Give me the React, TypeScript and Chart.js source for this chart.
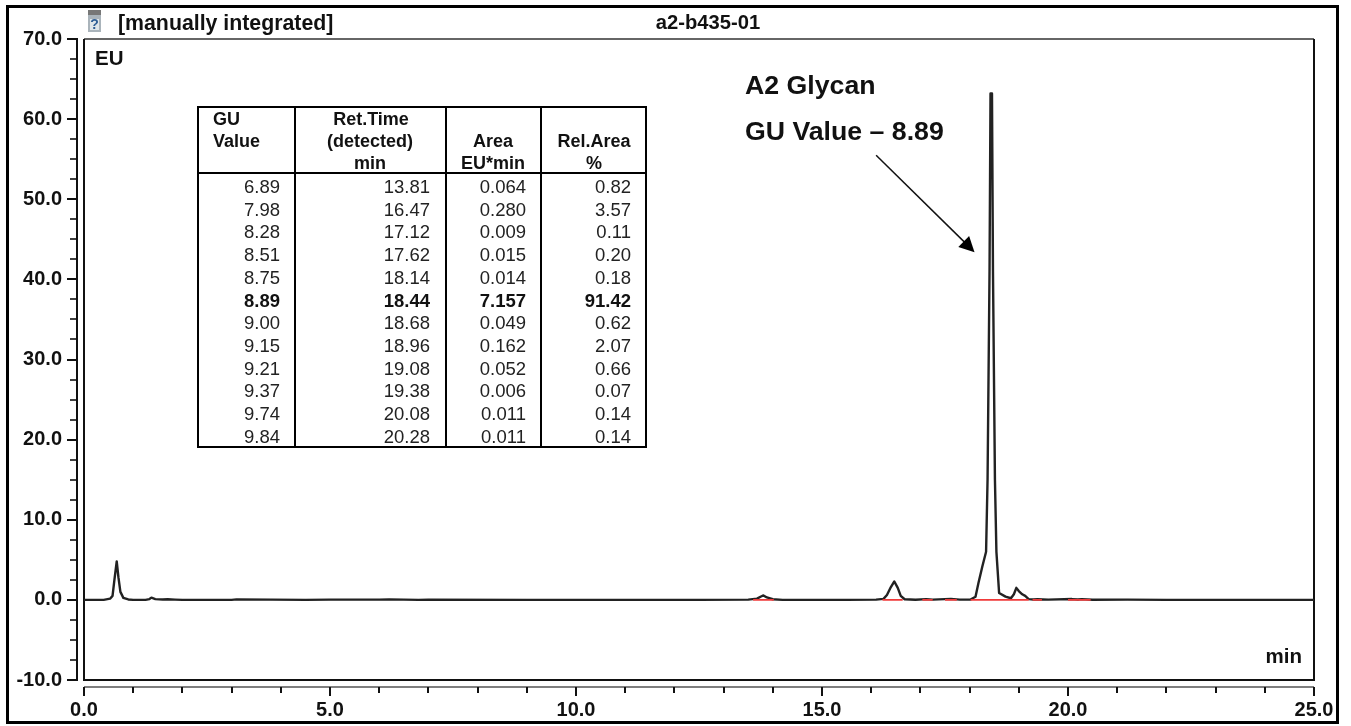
import React, { useEffect, useRef } from "react";
import { Chart, registerables } from "chart.js";

Chart.register(...registerables);

const traceTime = [0, 0.4, 0.53, 0.58, 0.62, 0.665, 0.7, 0.74, 0.8, 0.9, 1.0, 1.25, 1.33, 1.37, 1.45, 1.6, 1.7, 1.85, 2.0, 3.0, 3.1, 4.5, 5.0, 6.0, 6.2, 6.8, 7.0, 9.0, 11.0, 12.5, 13.5, 13.68, 13.76, 13.81, 13.88, 14.0, 14.2, 15.5, 16.1, 16.25, 16.32, 16.4, 16.47, 16.54, 16.6, 16.68, 16.9, 17.12, 17.25, 17.62, 17.8, 18.02, 18.12, 18.18, 18.26, 18.335, 18.365, 18.405, 18.425, 18.455, 18.475, 18.515, 18.545, 18.6, 18.73, 18.84, 18.9, 18.95, 19.0, 19.07, 19.13, 19.2, 19.3, 19.38, 19.6, 20.08, 20.2, 20.28, 20.5, 21.2, 22.0, 25.0];
const traceSignal = [0, 0, 0.15, 0.5, 2.6, 4.8, 2.8, 1.0, 0.25, 0.05, 0, 0, 0.1, 0.28, 0.1, 0.05, 0.08, 0.03, 0, 0, 0.06, 0, 0.03, 0.03, 0.06, 0, 0.03, 0, 0, 0, 0.03, 0.15, 0.42, 0.55, 0.3, 0.08, 0, 0, 0.03, 0.12, 0.6, 1.6, 2.3, 1.5, 0.5, 0.08, 0.02, 0.1, 0.03, 0.12, 0.03, 0.05, 0.4, 2.1, 4.2, 6.0, 15, 41, 63.2, 63.2, 41, 15, 6.0, 0.85, 0.4, 0.2, 0.7, 1.5, 1.1, 0.7, 0.5, 0.1, 0.05, 0.08, 0.03, 0.1, 0.05, 0.1, 0.02, 0.03, 0, 0];

const baselineStarts = [13.6, 16.23, 17.04, 17.5, 18.02, 19.28, 20.0, 20.2];
const baselineEnds = [14.02, 16.64, 17.25, 17.74, 19.2, 19.47, 20.2, 20.46];

const xMin = 0;
const xMax = 25;
const yMin = -10;
const yMax = 70;
const xMajor = [0, 5, 10, 15, 20, 25];
const yMajor = [-10, 0, 10, 20, 30, 40, 50, 60, 70];

const guValues = ["6.89", "7.98", "8.28", "8.51", "8.75", "8.89", "9.00", "9.15", "9.21", "9.37", "9.74", "9.84"];
const retTimes = ["13.81", "16.47", "17.12", "17.62", "18.14", "18.44", "18.68", "18.96", "19.08", "19.38", "20.08", "20.28"];
const areas = ["0.064", "0.280", "0.009", "0.015", "0.014", "7.157", "0.049", "0.162", "0.052", "0.006", "0.011", "0.011"];
const relAreas = ["0.82", "3.57", "0.11", "0.20", "0.18", "91.42", "0.62", "2.07", "0.66", "0.07", "0.14", "0.14"];
const boldRow = 5;

const FONT = '"Liberation Sans", Arial, sans-serif';

const baselinePoints: { x: number; y: number | null }[] = [];
baselineStarts.forEach((s, i) => {
  baselinePoints.push({ x: s, y: 0 }, { x: baselineEnds[i], y: 0 }, { x: baselineEnds[i], y: null });
});

const decorPlugin = {
  id: "decor",
  beforeDraw(chart: any) {
    const { ctx, chartArea: a, scales } = chart;
    const xs = scales.x;
    const ys = scales.y;
    ctx.save();
    ctx.fillStyle = "#fff";
    ctx.fillRect(0, 0, chart.width, chart.height);

    // outer frame
    ctx.strokeStyle = "#000";
    ctx.lineWidth = 3;
    ctx.strokeRect(7.5, 6.5, 1330, 716);

    // y axis ruler
    ctx.strokeStyle = "#111";
    ctx.lineWidth = 2;
    const axisX = 77;
    ctx.beginPath();
    ctx.moveTo(axisX, a.top - 1);
    ctx.lineTo(axisX, a.bottom + 1);
    ctx.stroke();
    ys.ticks.forEach((t: any) => {
      const major = yMajor.includes(t.value);
      const p = Math.round(ys.getPixelForValue(t.value));
      ctx.lineWidth = major ? 2 : 1.6;
      ctx.beginPath();
      ctx.moveTo(axisX, p);
      ctx.lineTo(major ? 67 : 70, p);
      ctx.stroke();
    });

    // x axis ruler
    const axisY = 687;
    ctx.strokeStyle = "#555";
    ctx.lineWidth = 1.5;
    ctx.beginPath();
    ctx.moveTo(a.left, axisY);
    ctx.lineTo(a.right, axisY);
    ctx.stroke();
    ctx.strokeStyle = "#111";
    xs.ticks.forEach((t: any) => {
      const major = xMajor.includes(t.value);
      const p = Math.round(xs.getPixelForValue(t.value));
      ctx.lineWidth = 2;
      ctx.beginPath();
      ctx.moveTo(p, axisY);
      ctx.lineTo(p, major ? 696 : 693);
      ctx.stroke();
    });

    // plot frame
    ctx.strokeStyle = "#666";
    ctx.lineWidth = 2;
    ctx.beginPath();
    ctx.moveTo(a.left, a.top);
    ctx.lineTo(a.right, a.top);
    ctx.stroke();
    ctx.strokeStyle = "#111";
    ctx.beginPath();
    ctx.moveTo(a.left, a.top);
    ctx.lineTo(a.left, a.bottom);
    ctx.lineTo(a.right, a.bottom);
    ctx.lineTo(a.right, a.top);
    ctx.stroke();

    // vial icon
    ctx.fillStyle = "#777";
    ctx.fillRect(88, 10, 13, 5);
    ctx.fillStyle = "#aab4bb";
    ctx.fillRect(88, 15, 13, 17);
    ctx.fillStyle = "#dfe6ea";
    ctx.fillRect(90, 19, 9, 11);
    ctx.fillStyle = "#2f5f96";
    ctx.font = `bold 14px ${FONT}`;
    ctx.textAlign = "center";
    ctx.textBaseline = "middle";
    ctx.fillText("?", 94.5, 25);

    ctx.restore();
  },
  afterDraw(chart: any) {
    const { ctx, scales } = chart;
    const xs = scales.x;
    const ys = scales.y;
    ctx.save();
    ctx.fillStyle = "#111";
    ctx.textBaseline = "alphabetic";
    ctx.textAlign = "left";

    // header
    ctx.font = `bold 21.3px ${FONT}`;
    ctx.fillText("[manually integrated]", 118, 30);
    ctx.textAlign = "center";
    ctx.font = `bold 20.2px ${FONT}`;
    ctx.fillText("a2-b435-01", 708, 28.5);

    // inner labels
    ctx.textAlign = "left";
    ctx.font = `bold 20.5px ${FONT}`;
    ctx.fillText("EU", 95, 65);
    ctx.textAlign = "right";
    ctx.fillText("min", 1302, 663);

    // annotation
    ctx.textAlign = "left";
    ctx.font = `bold 26.7px ${FONT}`;
    ctx.fillText("A2 Glycan", 745, 94);
    ctx.fillText("GU Value \u2013 8.89", 745, 139.5);

    // arrow
    const x0 = xs.getPixelForValue(16.1);
    const y0 = ys.getPixelForValue(55.5);
    const x1 = xs.getPixelForValue(18.1);
    const y1 = ys.getPixelForValue(43.4);
    ctx.strokeStyle = "#111";
    ctx.lineWidth = 1.5;
    ctx.beginPath();
    ctx.moveTo(x0, y0);
    ctx.lineTo(x1 - 8, y1 - 8);
    ctx.stroke();
    const ang = Math.atan2(y1 - y0, x1 - x0);
    ctx.fillStyle = "#000";
    ctx.beginPath();
    ctx.moveTo(x1, y1);
    ctx.lineTo(x1 - 17 * Math.cos(ang - 0.47), y1 - 17 * Math.sin(ang - 0.47));
    ctx.lineTo(x1 - 17 * Math.cos(ang + 0.47), y1 - 17 * Math.sin(ang + 0.47));
    ctx.closePath();
    ctx.fill();

    // table
    const cols = [198, 295, 446, 541, 646];
    const top = 107;
    const head = 173;
    const bottom = 447;
    ctx.strokeStyle = "#000";
    ctx.lineWidth = 2;
    ctx.strokeRect(cols[0], top, cols[4] - cols[0], bottom - top);
    ctx.beginPath();
    ctx.moveTo(cols[0], head);
    ctx.lineTo(cols[4], head);
    for (let i = 1; i < 4; i++) {
      ctx.moveTo(cols[i], top);
      ctx.lineTo(cols[i], bottom);
    }
    ctx.stroke();

    ctx.fillStyle = "#111";
    ctx.font = `bold 18px ${FONT}`;
    ctx.textAlign = "left";
    ctx.fillText("GU", 213, 124.5);
    ctx.fillText("Value", 213, 147);
    ctx.textAlign = "center";
    ctx.fillText("Ret.Time", 371, 125);
    ctx.fillText("(detected)", 370, 147);
    ctx.fillText("min", 370, 169);
    ctx.fillText("Area", 493, 147);
    ctx.fillText("EU*min", 493, 169);
    ctx.fillText("Rel.Area", 594, 147);
    ctx.fillText("%", 594, 169);

    const right = [280, 430, 526, 631];
    const columns = [guValues, retTimes, areas, relAreas];
    ctx.textAlign = "right";
    guValues.forEach((_, r) => {
      const y = 193 + r * 22.72;
      ctx.font = `${r === boldRow ? "bold " : ""}18.5px ${FONT}`;
      ctx.fillStyle = r === boldRow ? "#111" : "#222";
      columns.forEach((col, c) => ctx.fillText(col[r], right[c], y));
    });
    ctx.restore();
  },
};

export default function App() {
  const ref = useRef<HTMLCanvasElement>(null);
  useEffect(() => {
    const chart = new Chart(ref.current!, {
      type: "line",
      data: {
        datasets: [
          {
            label: "Baseline",
            data: baselinePoints as any,
            borderColor: "#f03a3a",
            borderWidth: 1.8,
            pointRadius: 0,
            spanGaps: false,
            order: 1,
          },
          {
            label: "EU",
            data: traceTime.map((x, i) => ({ x, y: traceSignal[i] })),
            borderColor: "#222",
            borderWidth: 2.4,
            borderJoinStyle: "round",
            pointRadius: 0,
            tension: 0,
            order: 2,
          },
        ],
      },
      options: {
        responsive: false,
        animation: false,
        devicePixelRatio: 1,
        layout: { padding: { left: 0, top: 39, right: 37, bottom: 0 } },
        plugins: { legend: { display: false }, title: { display: false }, tooltip: { enabled: false } },
        scales: {
          x: {
            type: "linear",
            min: xMin,
            max: xMax,
            afterFit(s: any) { s.height = 46; s.paddingLeft = 0; s.paddingRight = 0; },
            border: { display: false },
            grid: { display: false },
            ticks: {
              stepSize: 1,
              autoSkip: false,
              maxRotation: 0,
              padding: 10,
              color: "#111",
              font: { family: FONT, size: 20, weight: "bold" },
              callback: (v: any) => (xMajor.includes(v) ? Number(v).toFixed(1) : ""),
            },
          },
          y: {
            type: "linear",
            min: yMin,
            max: yMax,
            afterFit(s: any) { s.width = 84; s.paddingTop = 0; s.paddingBottom = 0; },
            border: { display: false },
            grid: { display: false },
            ticks: {
              stepSize: 2.5,
              autoSkip: false,
              padding: 14,
              color: "#111",
              font: { family: FONT, size: 20, weight: "bold" },
              callback: (v: any) => (yMajor.includes(v) ? Number(v).toFixed(1) : ""),
            },
          },
        },
      },
      plugins: [decorPlugin],
    } as any);
    return () => chart.destroy();
  }, []);
  return (
    <div style={{ position: "absolute", left: 0, top: 0, width: 1351, height: 726, background: "#fff" }}>
      <canvas ref={ref} width={1351} height={726} style={{ display: "block" }} />
    </div>
  );
}
